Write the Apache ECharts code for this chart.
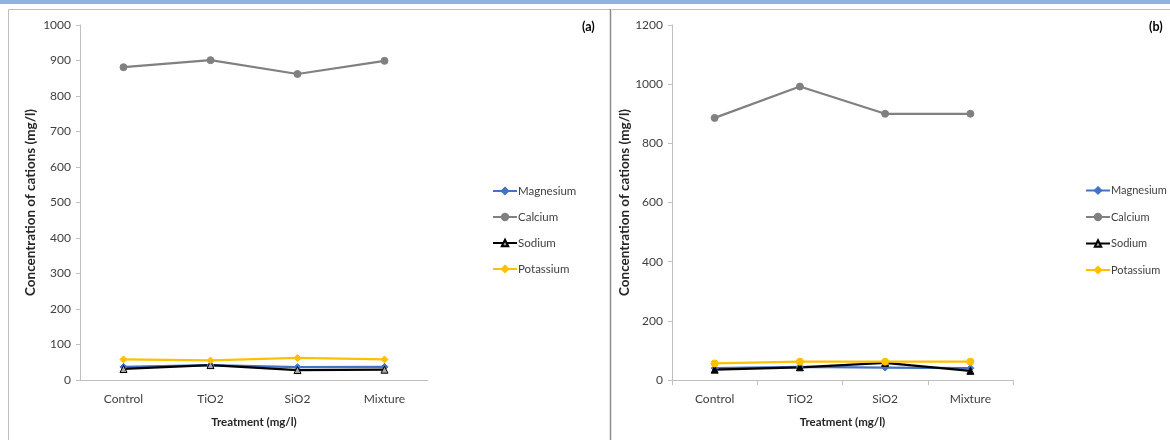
<!DOCTYPE html>
<html>
<head>
<meta charset="utf-8">
<script src="https://cdn.jsdelivr.net/npm/echarts@6/dist/echarts.min.js"></script>
<style>html,body{margin:0;padding:0;background:#fff}#c{width:1170px;height:440px}</style>
</head>
<body>
<div id="c"></div>
<script>
const categories = ['Control', 'TiO2', 'SiO2', 'Mixture'];
const seriesNames = ['Magnesium', 'Calcium', 'Sodium', 'Potassium'];
// Panel (a)
const magnesiumA = [37, 42, 36, 37];
const calciumA = [881, 901, 862, 899];
const sodiumA = [31, 42, 28, 29];
const potassiumA = [58, 55, 62, 58];
// Panel (b)
const magnesiumB = [40, 44, 42, 40];
const calciumB = [886, 992, 900, 900];
const sodiumB = [35, 43, 58, 31];
const potassiumB = [56, 62, 62, 62];
const yTicksA = {min: 0, max: 1000, interval: 100};
const yTicksB = {min: 0, max: 1200, interval: 200};

const FONT = 'Lato, "Open Sans", sans-serif';
const colors = {Magnesium: '#4472C4', Calcium: '#808080', Sodium: '#000000', Potassium: '#FFC000'};

function mkSeries(name, data, idx, symbol, itemColor, borderColor) {
  return {
    name: name, type: 'line', data: data, xAxisIndex: idx, yAxisIndex: idx,
    symbol: symbol, symbolSize: 7, showSymbol: true,
    lineStyle: {color: colors[name], width: 2.25},
    itemStyle: {color: itemColor || colors[name], borderColor: borderColor || itemColor || colors[name], borderWidth: 1},
    emphasis: {disabled: true}, animation: false
  };
}

function xAx(idx, ticks) {
  return {
    type: 'category', gridIndex: idx, data: categories, boundaryGap: true,
    axisLine: {lineStyle: {color: '#BFBFBF', width: 1}},
    axisTick: {show: ticks, length: 5, lineStyle: {color: '#BFBFBF'}},
    axisLabel: {color: '#404040', fontFamily: FONT, fontSize: 12, margin: 13},
    name: 'Treatment (mg/l)', nameLocation: 'middle', nameGap: 36,
    nameTextStyle: {color: '#262626', fontFamily: FONT, fontSize: 11.5, fontWeight: 'bold'}
  };
}
function yAx(idx, t, gap) {
  return {
    type: 'value', gridIndex: idx, min: t.min, max: t.max, interval: t.interval,
    splitLine: {show: false},
    axisLine: {show: true, lineStyle: {color: '#BFBFBF', width: 1}},
    axisTick: {show: true, length: 4, lineStyle: {color: '#BFBFBF'}},
    axisLabel: {color: '#404040', fontFamily: FONT, fontSize: 12, margin: 9, formatter: function (v) { return String(v); }},
    name: 'Concentration of cations (mg/l)', nameLocation: 'middle', nameGap: gap, nameRotate: 90,
    nameTextStyle: {color: '#262626', fontFamily: FONT, fontSize: 13.5, fontWeight: 'bold'}
  };
}
function legend(left, fs, gap) {
  return {
    orient: 'vertical', left: left, top: 180, itemGap: gap, itemWidth: 24, itemHeight: 8,
    data: seriesNames, textStyle: {color: '#404040', fontFamily: FONT, fontSize: fs, padding: [0, 0, 0, -4]},
    selectedMode: false
  };
}

const chart = echarts.init(document.getElementById('c'), null, {renderer: 'canvas'});
chart.setOption({
  backgroundColor: '#ffffff',
  animation: false,
  graphic: [
    {type: 'rect', shape: {x: 0, y: 0, width: 1170, height: 4}, style: {fill: '#8DB3E2'}, silent: true},
    {type: 'polyline', shape: {points: [[8.5, 440], [8.5, 9.5], [610.5, 9.5], [610.5, 440]]}, style: {stroke: '#BFBFBF', fill: null, lineWidth: 1}, silent: true},
    {type: 'line', shape: {x1: 610.5, y1: 9, x2: 610.5, y2: 440}, style: {stroke: '#8C8C8C', lineWidth: 1.5}, silent: true},
    {type: 'line', shape: {x1: 612, y1: 9.5, x2: 1170, y2: 9.5}, style: {stroke: '#BFBFBF', lineWidth: 1}, silent: true},
    {type: 'text', left: 582, top: 20, style: {text: '(a)', font: 'bold 12.5px ' + FONT, fill: '#000'}, silent: true},
    {type: 'text', left: 1149, top: 20, style: {text: '(b)', font: 'bold 12.5px ' + FONT, fill: '#000'}, silent: true}
  ],
  grid: [
    {left: 80, width: 348, top: 25, height: 355},
    {left: 672, width: 341, top: 25, height: 355}
  ],
  xAxis: [xAx(0, false), xAx(1, true)],
  yAxis: [yAx(0, yTicksA, 42), yAx(1, yTicksB, 38)],
  legend: [legend(487, 11.5, 14), legend(1080, 11, 15.5)],
  series: [
    mkSeries('Magnesium', magnesiumA, 0, 'diamond'),
    mkSeries('Calcium', calciumA, 0, 'circle'),
    mkSeries('Sodium', sodiumA, 0, 'triangle', '#A6A6A6', '#000000'),
    mkSeries('Potassium', potassiumA, 0, 'diamond'),
    mkSeries('Magnesium', magnesiumB, 1, 'diamond'),
    mkSeries('Calcium', calciumB, 1, 'circle'),
    mkSeries('Sodium', sodiumB, 1, 'triangle'),
    mkSeries('Potassium', potassiumB, 1, 'circle')
  ]
});
</script>
</body>
</html>
